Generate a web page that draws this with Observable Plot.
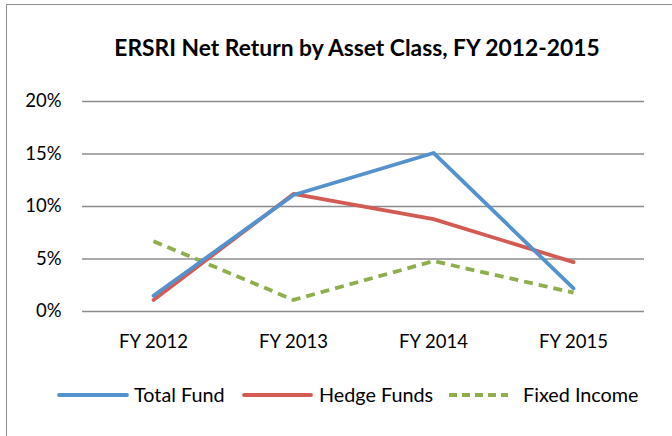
<!DOCTYPE html>
<html>
<head>
<meta charset="utf-8">
<script src="https://cdn.jsdelivr.net/npm/d3@7"></script>
<script src="https://cdn.jsdelivr.net/npm/@observablehq/plot@0.6"></script>
<style>
  html, body { margin: 0; padding: 0; background: #fff; }
  #wrap { position: relative; width: 672px; height: 436px; overflow: hidden; font-family: Lato, sans-serif; }
  #frame { position: absolute; left: 6px; top: 4px; width: 700px; height: 500px; border-left: 1.5px solid #8e8e8e; border-top: 1.5px solid #8e8e8e; }
  #title { position: absolute; left: 0; width: 714px; top: 33px; text-align: center; font-weight: bold; font-size: 22.8px; color: #000; }
  #legend { position: absolute; top: 383px; left: 0; width: 672px; height: 24px; }
  #chart { position: absolute; left: 0; top: 0; }
</style>
</head>
<body>
<div id="wrap">
  <div id="frame"></div>
  <div id="chart"></div>
  <div id="title">ERSRI Net Return by Asset Class, FY 2012-2015</div>
  <svg id="legend" width="672" height="26"></svg>
</div>
<script>
const years = ["FY 2012", "FY 2013", "FY 2014", "FY 2015"];
const seriesNames = ["Total Fund", "Hedge Funds", "Fixed Income"];
const totalFund = [1.5, 11.1, 15.1, 2.2];
const hedgeFunds = [1.1, 11.2, 8.8, 4.7];
const fixedIncome = [6.7, 1.1, 4.8, 1.8];
const yTicks = [0, 5, 10, 15, 20];
const colors = ["#5591cc", "#d25b53", "#8fae4d"];

const values = [totalFund, hedgeFunds, fixedIncome];
const data = [];
values.forEach((arr, si) => arr.forEach((v, i) => data.push({series: seriesNames[si], year: years[i], value: v})));

const plot = Plot.plot({
  width: 672,
  height: 436,
  marginLeft: 82,
  marginRight: 28,
  marginTop: 101,
  marginBottom: 125,
  style: { fontFamily: "Lato, sans-serif", fontSize: "18px", color: "#000", background: "transparent" },
  x: { type: "point", domain: years, padding: 0.5, label: null },
  y: { domain: [0, 20], label: null },
  marks: [
    Plot.ruleY(yTicks, { stroke: "#8c8c8c", strokeWidth: 1.6, strokeOpacity: 1 }),
    Plot.axisY(yTicks, { tickSize: 0, tickPadding: 21, tickFormat: d => d + "%", label: null, fontSize: 18.5 }),
    Plot.axisX({ tickSize: 0, tickPadding: 23, label: null, fontSize: 18.5 }),
    Plot.line(data.filter(d => d.series === "Fixed Income"), { x: "year", y: "value", stroke: colors[2], strokeWidth: 3.8, strokeDasharray: "9,6", strokeLinecap: "butt" }),
    Plot.line(data.filter(d => d.series === "Hedge Funds"), { x: "year", y: "value", stroke: colors[1], strokeWidth: 3.8, strokeLinecap: "round" }),
    Plot.line(data.filter(d => d.series === "Total Fund"), { x: "year", y: "value", stroke: colors[0], strokeWidth: 3.8, strokeLinecap: "round" })
  ]
});
document.getElementById("chart").appendChild(plot);

// legend
const leg = d3.select("#legend");
const items = [
  { x1: 59, x2: 127, tx: 134 },
  { x1: 244, x2: 311, tx: 319 },
  { x1: 449, x2: 508, tx: 523 }
];
items.forEach((it, i) => {
  leg.append("line").attr("x1", it.x1).attr("x2", it.x2).attr("y1", 12).attr("y2", 12)
    .attr("stroke", colors[i]).attr("stroke-width", 3.8)
    .attr("stroke-dasharray", i === 2 ? "8,5" : null)
    .attr("stroke-linecap", i === 2 ? "butt" : "round");
  leg.append("text").attr("x", it.tx).attr("y", 12).attr("dy", "0.35em")
    .attr("font-family", "Lato, sans-serif").attr("font-size", 19.8).attr("fill", "#000")
    .text(seriesNames[i]);
});
</script>
</body>
</html>
